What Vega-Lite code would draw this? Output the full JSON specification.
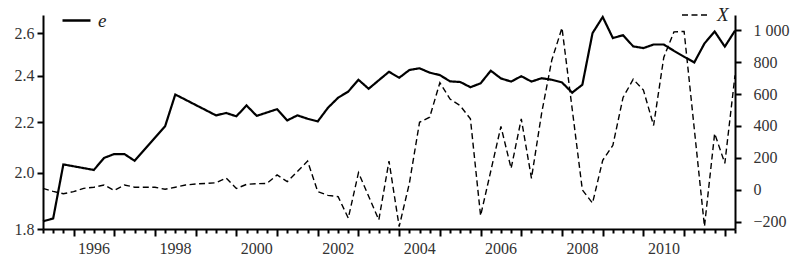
{
  "$schema": "https://vega.github.io/schema/vega-lite/v6.json",
  "width": 692,
  "height": 214,
  "autosize": {"type": "none"},
  "padding": {"left": 43, "top": 15, "right": 58, "bottom": 28},
  "background": "white",
  "config": {
    "view": {"stroke": null},
    "axis": {
      "labelFont": "Liberation Serif",
      "labelFontSize": 16,
      "labelColor": "#333333",
      "domainColor": "#000000",
      "domainWidth": 2,
      "tickColor": "#000000",
      "tickWidth": 2,
      "grid": false,
      "title": null
    },
    "legend": {
      "title": null,
      "symbolType": "stroke",
      "symbolSize": 784,
      "symbolStrokeColor": "#000000",
      "labelFont": "Liberation Serif",
      "labelFontStyle": "italic",
      "labelFontSize": 19,
      "labelColor": "#222222",
      "padding": 0,
      "labelOffset": 6
    }
  },
  "data": {
    "values": [
      {"t": 1995.25, "s": "e", "v": 1.826},
      {"t": 1995.5, "s": "e", "v": 1.836},
      {"t": 1995.75, "s": "e", "v": 2.032},
      {"t": 1996.5, "s": "e", "v": 2.011},
      {"t": 1996.75, "s": "e", "v": 2.057},
      {"t": 1997.0, "s": "e", "v": 2.072},
      {"t": 1997.25, "s": "e", "v": 2.072},
      {"t": 1997.5, "s": "e", "v": 2.046},
      {"t": 1998.25, "s": "e", "v": 2.183},
      {"t": 1998.5, "s": "e", "v": 2.317},
      {"t": 1999.5, "s": "e", "v": 2.228},
      {"t": 1999.75, "s": "e", "v": 2.238},
      {"t": 2000.0, "s": "e", "v": 2.224},
      {"t": 2000.25, "s": "e", "v": 2.27},
      {"t": 2000.5, "s": "e", "v": 2.226},
      {"t": 2000.75, "s": "e", "v": 2.24},
      {"t": 2001.0, "s": "e", "v": 2.254},
      {"t": 2001.25, "s": "e", "v": 2.207},
      {"t": 2001.5, "s": "e", "v": 2.228},
      {"t": 2001.75, "s": "e", "v": 2.214},
      {"t": 2002.0, "s": "e", "v": 2.203},
      {"t": 2002.25, "s": "e", "v": 2.26},
      {"t": 2002.5, "s": "e", "v": 2.303},
      {"t": 2002.75, "s": "e", "v": 2.33},
      {"t": 2003.0, "s": "e", "v": 2.382},
      {"t": 2003.25, "s": "e", "v": 2.342},
      {"t": 2003.5, "s": "e", "v": 2.38},
      {"t": 2003.75, "s": "e", "v": 2.418},
      {"t": 2004.0, "s": "e", "v": 2.391},
      {"t": 2004.25, "s": "e", "v": 2.426},
      {"t": 2004.5, "s": "e", "v": 2.434},
      {"t": 2004.75, "s": "e", "v": 2.414},
      {"t": 2005.0, "s": "e", "v": 2.403},
      {"t": 2005.25, "s": "e", "v": 2.375},
      {"t": 2005.5, "s": "e", "v": 2.372},
      {"t": 2005.75, "s": "e", "v": 2.349},
      {"t": 2006.0, "s": "e", "v": 2.366},
      {"t": 2006.25, "s": "e", "v": 2.423},
      {"t": 2006.5, "s": "e", "v": 2.388},
      {"t": 2006.75, "s": "e", "v": 2.374},
      {"t": 2007.0, "s": "e", "v": 2.398},
      {"t": 2007.25, "s": "e", "v": 2.374},
      {"t": 2007.5, "s": "e", "v": 2.389},
      {"t": 2007.75, "s": "e", "v": 2.382},
      {"t": 2008.0, "s": "e", "v": 2.37},
      {"t": 2008.25, "s": "e", "v": 2.325},
      {"t": 2008.5, "s": "e", "v": 2.36},
      {"t": 2008.75, "s": "e", "v": 2.6},
      {"t": 2009.0, "s": "e", "v": 2.68},
      {"t": 2009.25, "s": "e", "v": 2.576},
      {"t": 2009.5, "s": "e", "v": 2.59},
      {"t": 2009.75, "s": "e", "v": 2.536},
      {"t": 2010.0, "s": "e", "v": 2.528},
      {"t": 2010.25, "s": "e", "v": 2.545},
      {"t": 2010.5, "s": "e", "v": 2.545},
      {"t": 2010.75, "s": "e", "v": 2.515},
      {"t": 2011.0, "s": "e", "v": 2.487},
      {"t": 2011.25, "s": "e", "v": 2.461},
      {"t": 2011.5, "s": "e", "v": 2.55},
      {"t": 2011.75, "s": "e", "v": 2.608},
      {"t": 2012.0, "s": "e", "v": 2.535},
      {"t": 2012.25, "s": "e", "v": 2.612},
      {"t": 1995.25, "s": "X", "v": 9},
      {"t": 1995.5, "s": "X", "v": -10},
      {"t": 1995.75, "s": "X", "v": -25},
      {"t": 1996.0, "s": "X", "v": -12},
      {"t": 1996.25, "s": "X", "v": 9},
      {"t": 1996.5, "s": "X", "v": 16},
      {"t": 1996.75, "s": "X", "v": 30},
      {"t": 1997.0, "s": "X", "v": -4},
      {"t": 1997.25, "s": "X", "v": 30},
      {"t": 1997.5, "s": "X", "v": 16},
      {"t": 1997.75, "s": "X", "v": 16},
      {"t": 1998.0, "s": "X", "v": 16},
      {"t": 1998.25, "s": "X", "v": 3},
      {"t": 1998.5, "s": "X", "v": 16},
      {"t": 1998.75, "s": "X", "v": 30},
      {"t": 1999.0, "s": "X", "v": 36},
      {"t": 1999.25, "s": "X", "v": 40},
      {"t": 1999.5, "s": "X", "v": 44},
      {"t": 1999.75, "s": "X", "v": 74},
      {"t": 2000.0, "s": "X", "v": 8},
      {"t": 2000.25, "s": "X", "v": 34},
      {"t": 2000.5, "s": "X", "v": 38},
      {"t": 2000.75, "s": "X", "v": 40},
      {"t": 2001.0, "s": "X", "v": 93},
      {"t": 2001.25, "s": "X", "v": 51},
      {"t": 2001.5, "s": "X", "v": 115},
      {"t": 2001.75, "s": "X", "v": 180},
      {"t": 2002.0, "s": "X", "v": -12},
      {"t": 2002.25, "s": "X", "v": -35},
      {"t": 2002.5, "s": "X", "v": -43},
      {"t": 2002.75, "s": "X", "v": -178},
      {"t": 2003.0, "s": "X", "v": 107},
      {"t": 2003.5, "s": "X", "v": -189},
      {"t": 2003.75, "s": "X", "v": 180},
      {"t": 2004.0, "s": "X", "v": -231},
      {"t": 2004.25, "s": "X", "v": 40},
      {"t": 2004.5, "s": "X", "v": 423},
      {"t": 2004.75, "s": "X", "v": 455},
      {"t": 2005.0, "s": "X", "v": 672},
      {"t": 2005.25, "s": "X", "v": 569},
      {"t": 2005.5, "s": "X", "v": 527},
      {"t": 2005.75, "s": "X", "v": 445},
      {"t": 2006.0, "s": "X", "v": -163},
      {"t": 2006.5, "s": "X", "v": 397},
      {"t": 2006.75, "s": "X", "v": 134},
      {"t": 2007.0, "s": "X", "v": 445},
      {"t": 2007.25, "s": "X", "v": 72},
      {"t": 2007.5, "s": "X", "v": 481},
      {"t": 2007.75, "s": "X", "v": 814},
      {"t": 2008.0, "s": "X", "v": 1015},
      {"t": 2008.5, "s": "X", "v": -1},
      {"t": 2008.75, "s": "X", "v": -84},
      {"t": 2009.0, "s": "X", "v": 185},
      {"t": 2009.25, "s": "X", "v": 279},
      {"t": 2009.5, "s": "X", "v": 579},
      {"t": 2009.75, "s": "X", "v": 693},
      {"t": 2010.0, "s": "X", "v": 625},
      {"t": 2010.25, "s": "X", "v": 403},
      {"t": 2010.5, "s": "X", "v": 830},
      {"t": 2010.75, "s": "X", "v": 990},
      {"t": 2011.0, "s": "X", "v": 993},
      {"t": 2011.5, "s": "X", "v": -230},
      {"t": 2011.75, "s": "X", "v": 353},
      {"t": 2012.0, "s": "X", "v": 166},
      {"t": 2012.25, "s": "X", "v": 717}
    ]
  },
  "encoding": {
    "x": {
      "field": "t",
      "type": "quantitative",
      "scale": {"domain": [1995.25, 2012.25], "nice": false, "zero": false},
      "axis": {
        "orient": "bottom",
        "values": [1995.25, 1995.5, 1995.75, 1996, 1996.25, 1996.5, 1996.75, 1997, 1997.25, 1997.5, 1997.75, 1998, 1998.25, 1998.5, 1998.75, 1999, 1999.25, 1999.5, 1999.75, 2000, 2000.25, 2000.5, 2000.75, 2001, 2001.25, 2001.5, 2001.75, 2002, 2002.25, 2002.5, 2002.75, 2003, 2003.25, 2003.5, 2003.75, 2004, 2004.25, 2004.5, 2004.75, 2005, 2005.25, 2005.5, 2005.75, 2006, 2006.25, 2006.5, 2006.75, 2007, 2007.25, 2007.5, 2007.75, 2008, 2008.25, 2008.5, 2008.75, 2009, 2009.25, 2009.5, 2009.75, 2010, 2010.25, 2010.5, 2010.75, 2011, 2011.25, 2011.5, 2011.75, 2012, 2012.25],
        "tickSize": {"condition": {"test": "datum.value % 1 == 0", "value": 7}, "value": 4},
        "labelExpr": "(datum.value % 2 == 0 && datum.value < 2011) ? '' + datum.value : ''",
        "labelOffset": 20,
        "labelFlush": false,
        "labelOverlap": false,
        "labelBound": false,
        "labelPadding": 4
      }
    }
  },
  "layer": [
    {
      "transform": [{"filter": "datum.s == 'e'"}],
      "mark": {"type": "line", "color": "#000000", "strokeWidth": 2.2, "strokeJoin": "miter"},
      "encoding": {
        "y": {
          "field": "v",
          "type": "quantitative",
          "scale": {"type": "log", "domain": [1.8, 2.69], "nice": false},
          "axis": {
            "orient": "left",
            "values": [1.8, 2.0, 2.2, 2.4, 2.6],
            "format": ".1f",
            "tickSize": 6,
            "labelPadding": 3
          }
        },
        "strokeDash": {
          "field": "s",
          "type": "nominal",
          "scale": {"domain": ["e"], "range": [[1, 0]]},
          "legend": {"orient": "none", "legendX": 18, "legendY": -10, "symbolStrokeWidth": 2.4}
        }
      }
    },
    {
      "transform": [{"filter": "datum.s == 'X'"}],
      "mark": {"type": "line", "color": "#000000", "strokeWidth": 1.4},
      "encoding": {
        "y": {
          "field": "v",
          "type": "quantitative",
          "scale": {"domain": [-246, 1096], "nice": false, "zero": false},
          "axis": {
            "orient": "right",
            "values": [-200, 0, 200, 400, 600, 800, 1000],
            "labelExpr": "datum.value == 1000 ? '1 000' : (datum.value < 0 ? '−' + (-datum.value) : '' + datum.value)",
            "tickSize": 6,
            "labelPadding": 12
          }
        },
        "strokeDash": {
          "field": "s",
          "type": "nominal",
          "scale": {"domain": ["X"], "range": [[6, 3.5]]},
          "legend": {"orient": "none", "legendX": 638, "legendY": -15, "symbolStrokeWidth": 1.6}
        }
      }
    }
  ],
  "resolve": {"scale": {"y": "independent", "strokeDash": "independent"}}
}
